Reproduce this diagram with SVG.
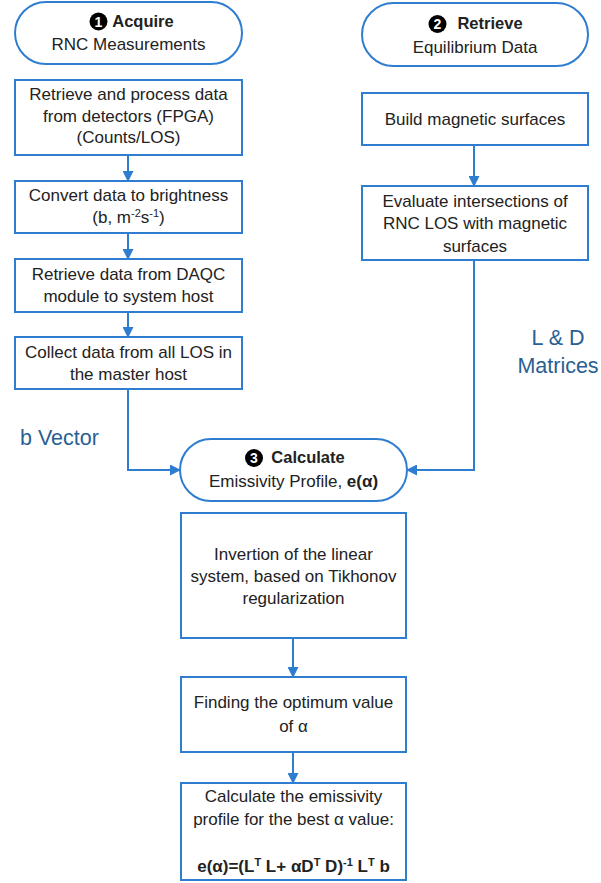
<svg xmlns="http://www.w3.org/2000/svg" width="601" height="883" viewBox="0 0 601 883">
<style>
.box{fill:#fff;stroke:#2e7dd1;stroke-width:2}
.t{font-family:"Liberation Sans","Open Sans",sans-serif;font-size:17px;fill:#222;text-anchor:middle}
.b{font-weight:bold}
.h{font-size:16.5px}
.lab{font-family:"Liberation Sans","Open Sans",sans-serif;font-size:21.5px;fill:#2a5f95}
.num{font-family:"Liberation Sans",sans-serif;font-size:14px;font-weight:bold;fill:#fff;text-anchor:middle}
.c{fill:none;stroke:#2e7dd1;stroke-width:2}
</style>
<defs>
<marker id="ah" markerWidth="11" markerHeight="11" refX="10" refY="5.5" orient="auto" markerUnits="userSpaceOnUse">
<path d="M0,0 L11,5.5 L0,11 Z" fill="#2e7dd1"/>
</marker>
</defs>
<rect width="601" height="883" fill="#fff"/>
<g id="connectors">
<path class="c" d="M128,155 V181" marker-end="url(#ah)"/>
<path class="c" d="M128,233 V259" marker-end="url(#ah)"/>
<path class="c" d="M128,312 V337" marker-end="url(#ah)"/>
<path class="c" d="M128,389 V470 H180" marker-end="url(#ah)"/>
<path class="c" d="M474,145 V186" marker-end="url(#ah)"/>
<path class="c" d="M474,260 V470 H407" marker-end="url(#ah)"/>
<path class="c" d="M293,638 V677" marker-end="url(#ah)"/>
<path class="c" d="M293,752 V783" marker-end="url(#ah)"/>
</g>
<g id="acquire">
<rect class="box" x="15" y="2" width="227" height="62" rx="31"/>
<circle cx="98.5" cy="21.5" r="9" fill="#000"/>
<text class="num" x="98.5" y="26.5">1</text>
<text class="t b h" x="143" y="27">Acquire</text>
<text class="t" x="128.5" y="50">RNC Measurements</text>
</g>
<g id="retrieve-process">
<rect class="box" x="15" y="80" width="227" height="75"/>
<text class="t" x="128.5" y="100">Retrieve and process data</text>
<text class="t" x="128.5" y="122">from detectors (FPGA)</text>
<text class="t" x="128.5" y="143">(Counts/LOS)</text>
</g>
<g id="convert">
<rect class="box" x="15" y="181" width="227" height="52"/>
<text class="t" x="128.5" y="201">Convert data to brightness</text>
<text class="t" x="128.5" y="223">(b, m<tspan font-size="11" dy="-6">-2</tspan><tspan dy="6">s</tspan><tspan font-size="11" dy="-6">-1</tspan><tspan dy="6">)</tspan></text>
</g>
<g id="daqc">
<rect class="box" x="15" y="259" width="227" height="53"/>
<text class="t" x="128.5" y="280">Retrieve data from DAQC</text>
<text class="t" x="128.5" y="302">module to system host</text>
</g>
<g id="collect">
<rect class="box" x="15" y="337" width="227" height="52"/>
<text class="t" x="128.5" y="358">Collect data from all LOS in</text>
<text class="t" x="128.5" y="380">the master host</text>
</g>
<g id="retrieve-eq">
<rect class="box" x="362" y="3" width="226" height="63" rx="31.5"/>
<circle cx="437.5" cy="24" r="9" fill="#000"/>
<text class="num" x="437.5" y="29">2</text>
<text class="t b h" x="490" y="29">Retrieve</text>
<text class="t" x="475" y="53">Equilibrium Data</text>
</g>
<g id="build">
<rect class="box" x="362" y="93" width="226" height="52"/>
<text class="t" x="475" y="125">Build magnetic surfaces</text>
</g>
<g id="evaluate">
<rect class="box" x="362" y="186" width="226" height="74"/>
<text class="t" x="475" y="207">Evaluate intersections of</text>
<text class="t" x="475" y="229">RNC LOS with magnetic</text>
<text class="t" x="475" y="252">surfaces</text>
</g>
<g id="labels">
<text class="lab" x="20" y="445">b Vector</text>
<text class="lab" x="558" y="345" text-anchor="middle">L &amp; D</text>
<text class="lab" x="558" y="373" text-anchor="middle">Matrices</text>
</g>
<g id="calculate">
<rect class="box" x="180" y="439" width="227" height="62" rx="31"/>
<circle cx="254" cy="458" r="9" fill="#000"/>
<text class="num" x="254" y="463">3</text>
<text class="t b h" x="308" y="463">Calculate</text>
<text class="t" x="293.5" y="487">Emissivity Profile, <tspan class="b">e(α)</tspan></text>
</g>
<g id="invertion">
<rect class="box" x="181" y="513" width="225" height="125"/>
<text class="t" x="293.5" y="560">Invertion of the linear</text>
<text class="t" x="293.5" y="582">system, based on Tikhonov</text>
<text class="t" x="293.5" y="604">regularization</text>
</g>
<g id="finding">
<rect class="box" x="181" y="677" width="225" height="75"/>
<text class="t" x="293.5" y="708">Finding the optimum value</text>
<text class="t" x="293.5" y="732">of α</text>
</g>
<g id="calc-emis">
<rect class="box" x="181" y="783" width="225" height="97"/>
<text class="t" x="293.5" y="802">Calculate the emissivity</text>
<text class="t" x="293.5" y="825">profile for the best α value:</text>
<text class="t b" x="293.5" y="872">e(α)=(L<tspan font-size="11" dy="-6">T</tspan><tspan dy="6"> L+ αD</tspan><tspan font-size="11" dy="-6">T</tspan><tspan dy="6"> D)</tspan><tspan font-size="11" dy="-6">-1</tspan><tspan dy="6"> L</tspan><tspan font-size="11" dy="-6">T</tspan><tspan dy="6"> b</tspan></text>
</g>
</svg>
